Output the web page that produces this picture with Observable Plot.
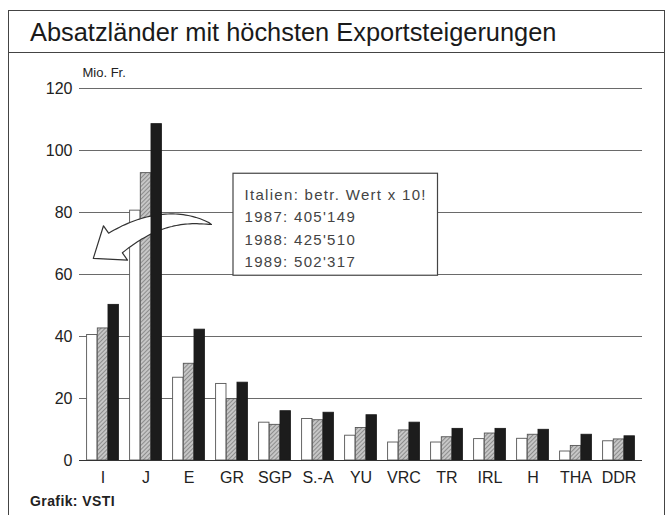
<!DOCTYPE html>
<html><head><meta charset="utf-8">
<script src="https://cdn.jsdelivr.net/npm/d3@7"></script>
<script src="https://cdn.jsdelivr.net/npm/@observablehq/plot@0.6"></script>
<style>
body{margin:0;background:#fff;font-family:"Liberation Sans",Arial,sans-serif;color:#222;}
#page{position:relative;width:671px;height:515px;overflow:hidden;background:#fff;}
#frame{position:absolute;left:8px;top:10px;width:657px;height:530px;border:1.5px solid #444;box-sizing:border-box;}
#titlebar{position:absolute;left:8px;top:10px;width:657px;height:43px;border-bottom:1.5px solid #444;box-sizing:border-box;}
#title{position:absolute;left:30px;top:20px;font-size:25.4px;line-height:25px;white-space:nowrap;color:#1a1a1a;}
#chart{position:absolute;left:0;top:0;}
#caption{position:absolute;left:30px;top:493px;font-size:14px;font-weight:bold;letter-spacing:0.4px;color:#222;}
.note text{letter-spacing:1.3px;}
</style></head>
<body>
<div id="page">
  <div id="frame"></div>
  <div id="titlebar"></div>
  <div id="title">Absatzländer mit höchsten Exportsteigerungen</div>
  <div id="chart"></div>
  <div id="caption">Grafik: VSTI</div>
</div>
<script>
// ---- data ----
const countries = ["I","J","E","GR","SGP","S.-A","YU","VRC","TR","IRL","H","THA","DDR"];
const v1987 = [40.5, 80.6, 26.7, 24.7, 12.2, 13.4, 8.0, 5.8, 5.8, 6.9, 7.0, 2.9, 6.2];
const v1988 = [42.6, 92.7, 31.2, 19.8, 11.5, 13.0, 10.5, 9.7, 7.5, 8.7, 8.3, 4.7, 6.8];
const v1989 = [50.2, 108.5, 42.2, 25.1, 15.9, 15.4, 14.6, 12.2, 10.2, 10.2, 9.9, 8.3, 7.8];
const yTicks = [0, 20, 40, 60, 80, 100, 120];
const unitLabel = "Mio. Fr.";
const noteLines = ["Italien: betr. Wert x 10!", "1987: 405'149", "1988: 425'510", "1989: 502'317"];
const noteValues = [85.5, 78.4, 71.0, 63.9];

const rows = countries.map((c, i) => ({country: c, a: v1987[i], b: v1988[i], c: v1989[i]}));
const notes = noteLines.map((t, i) => ({country: "GR", v: noteValues[i], text: t}));

const W = 671, H = 500, mL = 79, mR = 29, mT = 88, mB = 40;
const bw = (W - mL - mR) / countries.length;
const barW = 10.7, groupOff = (bw - 3 * barW) / 2;
const ins = i => ({insetLeft: groupOff + i * barW, insetRight: bw - groupOff - (i + 1) * barW});

function bandCenter(x, c) {
  const b = typeof x.bandwidth === "function" ? x.bandwidth() : bw;
  return x(c) + b / 2;
}

function boxMark(index, scales) {
  const x = scales.x, y = scales.y;
  const x0 = bandCenter(x, "GR") + 1.5, x1 = bandCenter(x, "TR") - 9;
  const y0 = y(92.5), y1 = y(59.6);
  const r = document.createElementNS("http://www.w3.org/2000/svg", "rect");
  r.setAttribute("x", x0); r.setAttribute("y", y0);
  r.setAttribute("width", x1 - x0); r.setAttribute("height", y1 - y0);
  r.setAttribute("fill", "white"); r.setAttribute("stroke", "#444"); r.setAttribute("stroke-width", 1.2);
  return r;
}

function arrowMark(index, scales) {
  const x = scales.x, y = scales.y;
  const A = [bandCenter(x, "E") + 23, y(76)];
  const B = [bandCenter(x, "I") + 13, y(70)];
  const C = [(A[0] + B[0]) / 2 + 1, y(81)];
  const N = 40, wMax = 12, hw = 21, L = 27;
  const s1 = [], s2 = [];
  for (let k = 0; k <= N; k++) {
    const t = k / N, u = 1 - t;
    const px = u*u*A[0] + 2*u*t*C[0] + t*t*B[0];
    const py = u*u*A[1] + 2*u*t*C[1] + t*t*B[1];
    const tx = 2*u*(C[0]-A[0]) + 2*t*(B[0]-C[0]);
    const ty = 2*u*(C[1]-A[1]) + 2*t*(B[1]-C[1]);
    const len = Math.hypot(tx, ty);
    const nx = -ty / len, ny = tx / len;
    const w = wMax * Math.pow(t, 0.75);
    s1.push([px + nx*w, py + ny*w]);
    s2.push([px - nx*w, py - ny*w]);
  }
  const dx = B[0] - C[0], dy = B[1] - C[1], dl = Math.hypot(dx, dy);
  const d = [dx/dl, dy/dl], n = [-d[1], d[0]];
  const h1 = [B[0] + n[0]*hw, B[1] + n[1]*hw];
  const tip = [B[0] + d[0]*L, B[1] + d[1]*L];
  const h2 = [B[0] - n[0]*hw, B[1] - n[1]*hw];
  const pts = [...s1, h1, tip, h2, ...s2.reverse()];
  const p = document.createElementNS("http://www.w3.org/2000/svg", "path");
  p.setAttribute("d", "M" + pts.map(q => q[0].toFixed(1) + "," + q[1].toFixed(1)).join("L") + "Z");
  p.setAttribute("fill", "white"); p.setAttribute("stroke", "#333"); p.setAttribute("stroke-width", 1.2);
  p.setAttribute("stroke-linejoin", "round");
  return p;
}

const plot = Plot.plot({
  width: W, height: H,
  marginLeft: mL, marginRight: mR, marginTop: mT, marginBottom: mB,
  style: {fontFamily: "'Liberation Sans', Arial, sans-serif", background: "transparent", color: "#222", overflow: "visible"},
  x: {domain: countries, padding: 0, label: null},
  y: {domain: [0, 120], label: null},
  marks: [
    Plot.gridY(yTicks.filter(v => v > 0), {stroke: "#6a6a6a", strokeOpacity: 1, strokeWidth: 1}),
    boxMark,
    Plot.barY(rows, {x: "country", y: "a", fill: "white", stroke: "#555", strokeWidth: 0.9, ...ins(0)}),
    Plot.barY(rows, {x: "country", y: "b", fill: "url(#hatch)", stroke: "#555", strokeWidth: 0.9, ...ins(1)}),
    arrowMark,
    Plot.barY(rows, {x: "country", y: "c", fill: "#1c1c1c", stroke: "#1c1c1c", strokeWidth: 0.9, ...ins(2)}),
    Plot.ruleY([0], {stroke: "#333", strokeWidth: 1.2}),
    Plot.text(notes, {x: "country", y: "v", text: "text", dx: 12.5, textAnchor: "start", fontSize: 15, fill: "#444", fontWeight: 300, className: "note"}),
    Plot.text([unitLabel], {frameAnchor: "top-left", dx: 3, dy: -21, fontSize: 13, fill: "#222", textAnchor: "start", lineAnchor: "top"}),
    Plot.axisY(yTicks, {tickSize: 0, tickPadding: 7, fontSize: 16, label: null, fill: "#222"}),
    Plot.axisX({tickSize: 0, tickPadding: 11, fontSize: 16, label: null, fill: "#222"})
  ]
});

const defs = d3.select(plot).insert("defs", ":first-child");
const pat = defs.append("pattern").attr("id", "hatch").attr("patternUnits", "userSpaceOnUse")
  .attr("width", 3).attr("height", 3).attr("patternTransform", "rotate(45)");
pat.append("rect").attr("width", 3).attr("height", 3).attr("fill", "#c6c6c6");
pat.append("line").attr("x1", 0).attr("y1", 0).attr("x2", 0).attr("y2", 3).attr("stroke", "#6e6e6e").attr("stroke-width", 1.3);
d3.select(plot).selectAll(".note text").attr("letter-spacing", "1.3px");

document.getElementById("chart").appendChild(plot);
</script>
</body></html>
